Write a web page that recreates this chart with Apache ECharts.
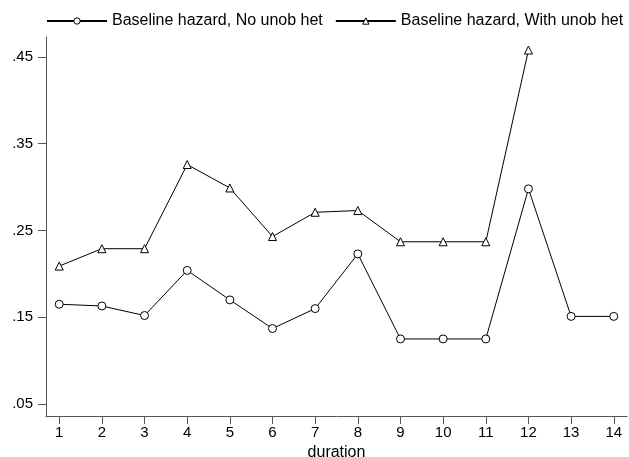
<!DOCTYPE html>
<html>
<head>
<meta charset="utf-8">
<script src="https://cdn.jsdelivr.net/npm/echarts@6/dist/echarts.min.js"></script>
<style>
html,body{margin:0;padding:0;background:#fff;overflow:hidden;}
#c{width:629px;height:457px;}
</style>
</head>
<body>
<div id="c"></div>
<script>
var durations = [1,2,3,4,5,6,7,8,9,10,11,12,13,14];
var noUnobHet = [0.165,0.163,0.152,0.204,0.170,0.137,0.160,0.223,0.125,0.125,0.125,0.298,0.151,0.151];
var withUnobHet = [0.209,0.229,0.229,0.326,0.299,0.243,0.271,0.273,0.237,0.237,0.237,0.458];
var yTicks = [0.05,0.15,0.25,0.35,0.45];
var xTicks = [1,2,3,4,5,6,7,8,9,10,11,12,13,14];
var seriesNames = ['Baseline hazard, No unob het','Baseline hazard, With unob het'];

function pairs(xs, ys){ return ys.map(function(v,i){ return [xs[i], v]; }); }

var font = "'Liberation Sans', Arial, sans-serif";
var axisColor = '#555';
var chart = echarts.init(document.getElementById('c'), null, {renderer:'canvas'});
chart.setOption({
  backgroundColor:'#fff',
  animation:false,
  textStyle:{fontFamily:font},
  legend:{
    left:46, top:13, width:600, orient:'horizontal', padding:0,
    itemWidth:60, itemHeight:8, itemGap:12,
    itemStyle:{color:'#fff', borderColor:'#000', borderWidth:1},
    textStyle:{fontFamily:font, fontSize:16, color:'#000'},
    data:seriesNames
  },
  grid:{left:46, right:2, top:37, bottom:41, containLabel:false, outerBoundsMode:'none'},
  xAxis:{
    type:'value', min:0.69, max:14.31,
    name:'duration', nameLocation:'middle', nameGap:17,
    nameTextStyle:{fontFamily:font, fontSize:16, color:'#000'},
    axisLine:{show:true, lineStyle:{color:axisColor, width:1}},
    axisTick:{show:true, length:8, customValues:xTicks, lineStyle:{color:axisColor}},
    axisLabel:{customValues:xTicks, margin:9, fontFamily:font, fontSize:15, color:'#000'},
    splitLine:{show:false}
  },
  yAxis:{
    type:'value', min:0.0362, max:0.473,
    axisLine:{show:true, lineStyle:{color:axisColor, width:1}},
    axisTick:{show:true, length:8, customValues:yTicks, lineStyle:{color:axisColor}},
    axisLabel:{customValues:yTicks, margin:13, fontFamily:font, fontSize:15, color:'#000',
      formatter:function(v){ return String(Math.round(v*100)/100).replace(/^0/,''); }},
    splitLine:{show:false}
  },
  series:[
    {name:seriesNames[0], type:'line', data:pairs(durations, noUnobHet),
     symbol:'circle', symbolSize:8,
     lineStyle:{color:'#000', width:1}, itemStyle:{color:'#fff', borderColor:'#000', borderWidth:1}},
    {name:seriesNames[1], type:'line', data:pairs(durations, withUnobHet),
     symbol:'triangle', symbolSize:8,
     lineStyle:{color:'#000', width:1}, itemStyle:{color:'#fff', borderColor:'#000', borderWidth:1}}
  ]
});
</script>
</body>
</html>
